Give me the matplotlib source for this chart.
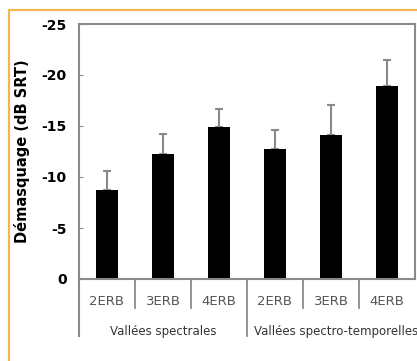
import matplotlib.pyplot as plt
from matplotlib.patches import Rectangle

# données (dB SRT, démasquage négatif)
conditions = ['2ERB', '3ERB', '4ERB', '2ERB', '3ERB', '4ERB']
groupes = ['Vallées spectrales', 'Vallées spectro-temporelles']
demasquage = [-8.7, -12.3, -14.9, -12.7, -14.1, -18.9]
erreur = [1.9, 1.9, 1.8, 1.9, 3.0, 2.6]
yticks = [0, -5, -10, -15, -20, -25]

gris = '#8a8a8a'

fig = plt.figure(figsize=(4.17, 3.61), dpi=100)
fig.patches.append(Rectangle((9 / 417, -0.1), 1.2, 1 - 10 / 361 + 0.1,
                             transform=fig.transFigure, fill=False,
                             edgecolor='#f5b54a', linewidth=1.5))
ax = fig.add_axes([79 / 417, 82 / 361, 336 / 417, 255 / 361])

x = list(range(len(conditions)))
ax.bar(x, demasquage, width=0.41, color='black', zorder=2)
# barres d'erreur vers le haut (axe inversé -> valeurs plus négatives)
ax.errorbar(x, demasquage, yerr=[erreur, [0] * len(erreur)], fmt='none',
            ecolor=gris, elinewidth=1.5, capsize=3, capthick=1.5, zorder=1)

ax.set_xlim(-0.5, len(conditions) - 0.5)
ax.set_ylim(0, -25)
ax.set_yticks(yticks)
ax.set_yticklabels([str(v) for v in yticks], fontsize=10, fontweight='bold')
ax.tick_params(axis='y', direction='in', length=3, color=gris, pad=9)
ax.set_xticks([])
for s in ax.spines.values():
    s.set_color(gris)
    s.set_linewidth(1.5)

ax.set_ylabel('Démasquage (dB SRT)', fontsize=10.5, fontweight='bold',
              labelpad=8)

# étiquettes sous l'axe
tr = ax.get_xaxis_transform()
for i, c in enumerate(conditions):
    ax.text(i, -0.089, c, transform=tr, ha='center', va='center',
            fontsize=9.5, color='#555555')
for i in range(1, len(conditions)):
    bas = -0.224 if i % 3 == 0 else -0.114
    ax.plot([i - 0.5, i - 0.5], [0, bas], transform=tr, color=gris,
            linewidth=1.3, clip_on=False)
ax.plot([-0.5, -0.5], [0, -0.224], transform=tr, color=gris,
        linewidth=1.5, clip_on=False)
ax.text(1, -0.204, groupes[0], transform=tr, ha='center', va='center',
        fontsize=8.5, color='#333333')
ax.text(2.63, -0.204, groupes[1], transform=tr, ha='left', va='center',
        fontsize=8.5, color='#333333')

fig.savefig('out.png', dpi=100)
